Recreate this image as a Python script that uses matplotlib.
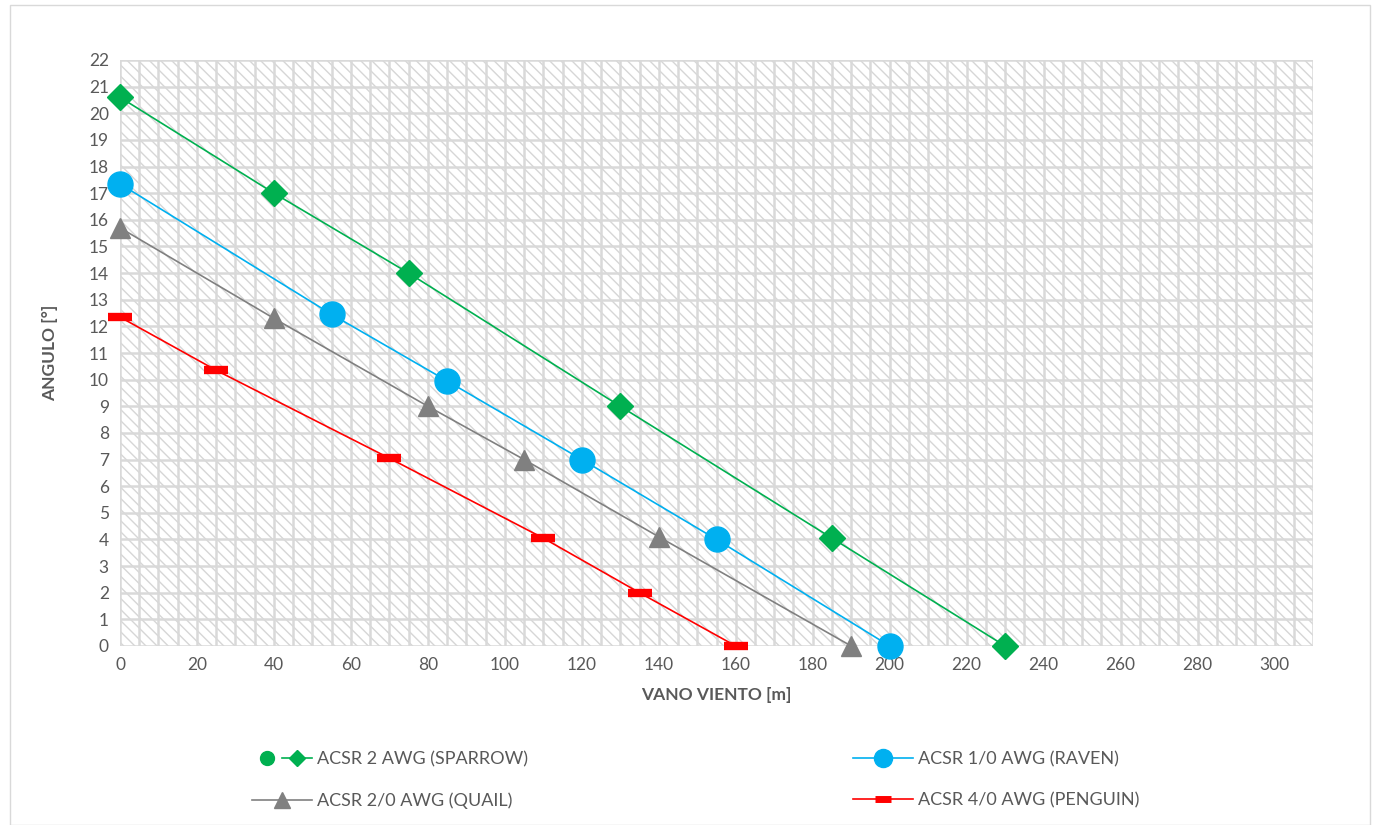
import matplotlib
matplotlib.use("Agg")
import matplotlib.pyplot as plt
from matplotlib.lines import Line2D
from matplotlib.patches import Rectangle
from matplotlib.legend_handler import HandlerTuple

plt.rcParams['font.family'] = ['Lato', 'DejaVu Sans']
plt.rcParams['hatch.linewidth'] = 1.0
plt.rcParams['hatch.color'] = '#d6d6d6'

# Data
sparrow_x = [0, 40, 75, 130, 185, 230]
sparrow_y = [20.6, 17.0, 14.0, 9.0, 4.05, 0.0]
raven_x = [0, 55, 85, 120, 155, 200]
raven_y = [17.35, 12.45, 9.95, 7.0, 4.0, 0.0]
quail_x = [0, 40, 80, 105, 140, 190]
quail_y = [15.7, 12.3, 9.0, 7.0, 4.1, 0.0]
penguin_x = [0, 25, 70, 110, 135, 160]
penguin_y = [12.35, 10.35, 7.05, 4.05, 2.0, 0.0]

labels = ["ACSR 2 AWG (SPARROW)", "ACSR 1/0 AWG (RAVEN)",
          "ACSR 2/0 AWG (QUAIL)", "ACSR 4/0 AWG (PENGUIN)"]
x_ticks = list(range(0, 301, 20))
y_ticks = list(range(0, 23))

GREEN = '#00B050'
BLUE = '#00B0F0'
GRAY = '#808080'
RED = '#FF0000'
TXT = '#595959'

fig = plt.figure(figsize=(13.78, 8.25), dpi=100)
ax = fig.add_axes([120/1378, 1-646/825, (1313-120)/1378, (646-60)/825])

# hatched background
ax.add_patch(Rectangle((0, 0), 1, 1, transform=ax.transAxes, facecolor='white',
                       edgecolor='#d6d6d6', hatch='\\\\\\', linewidth=0, zorder=0.2))

ax.set_xlim(0, 310)
ax.set_ylim(0, 22)
ax.set_xticks(x_ticks)
ax.set_xticks(list(range(0, 311, 5)), minor=True)
ax.set_yticks(y_ticks)
ax.grid(which='both', color='#d9d9d9', linewidth=1.8, zorder=0.5)
ax.set_axisbelow(True)
for s in ax.spines.values():
    s.set_visible(False)
ax.tick_params(which='both', length=0, labelsize=12.5, labelcolor=TXT, pad=8)

lw = 1.2
l1, = ax.plot(sparrow_x, sparrow_y, color=GREEN, lw=lw, marker='D', ms=13,
              mec=GREEN, mfc=GREEN, zorder=3, clip_on=False)
l2, = ax.plot(raven_x, raven_y, color=BLUE, lw=lw, marker='o', ms=18,
              mec=BLUE, mfc=BLUE, zorder=3, clip_on=False)
l3, = ax.plot(quail_x, quail_y, color=GRAY, lw=lw, marker='^', ms=15,
              mec=GRAY, mfc=GRAY, zorder=3, clip_on=False)
l4, = ax.plot(penguin_x, penguin_y, color=RED, lw=lw, marker='_', ms=17, mew=6,
              mec=RED, mfc=RED, zorder=3, clip_on=False)

ax.set_xlabel("VANO VIENTO [m]", fontsize=12.5, fontweight='bold', color=TXT, labelpad=10)
ax.set_ylabel("ANGULO [°]", fontsize=12.5, fontweight='bold', color=TXT, labelpad=22)

# legend
circ = Line2D([], [], color=GREEN, marker='o', ms=10, lw=0)
dia = Line2D([], [], color=GREEN, marker='D', ms=8, lw=lw)
h2 = Line2D([], [], color=BLUE, marker='o', ms=13, lw=lw)
h3 = Line2D([], [], color=GRAY, marker='^', ms=11, lw=lw)
h4 = Line2D([], [], color=RED, marker='_', ms=12, mew=5, lw=lw)
leg = fig.legend([(circ, dia), h3, h2, h4], [labels[0], labels[2], labels[1], labels[3]],
                 ncol=2, loc='center', bbox_to_anchor=(0.505, 0.0545),
                 frameon=False, fontsize=13, handlelength=3.3, handletextpad=0.3,
                 columnspacing=18.0, labelspacing=1.4,
                 handler_map={tuple: HandlerTuple(ndivide=None, pad=0)})
for t in leg.get_texts():
    t.set_color(TXT)

# outer chart border
fig.add_artist(Rectangle((10/1378, 0), 1360/1378, 1-5/825, transform=fig.transFigure,
                         fill=False, edgecolor='#d9d9d9', linewidth=1))

fig.savefig("out.png", dpi=100)
